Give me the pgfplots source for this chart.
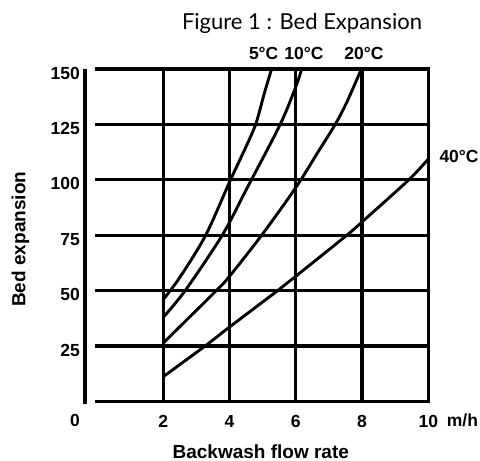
\documentclass[border=0pt]{standalone}
\usepackage{fontspec}
\setmainfont{Liberation Sans}
\newfontfamily\titlefont{Lato}
\usepackage{pgfplots}
\pgfplotsset{compat=1.18}
\begin{document}
\begin{tikzpicture}[x=1pt,y=1pt]
\useasboundingbox (0,0) rectangle (480,461);
\begin{axis}[
  at={(97pt,59.5pt)}, anchor=south west,
  scale only axis, width=331.3pt, height=332.5pt,
  xmin=0, xmax=10, ymin=0, ymax=150,
  axis line style={draw=none},
  xtick={2,4,6,8,10}, ytick={0,25,50,75,100,125,150},
  yticklabels={,25,50,75,100,125,150},
  major tick length=0pt,
  grid=major,
  major grid style={black, line width=3.3pt, line cap=rect},
  clip=false,
  /pgf/number format/assume math mode=true,
  tick label style={font=\fontsize{17.5}{20}\selectfont\bfseries, inner sep=0pt},
  yticklabel style={anchor=east, xshift=-17pt, yshift=-4pt},
  xticklabel style={anchor=north, yshift=-13.5pt},
]
\addplot[black, line width=2.9pt, smooth] coordinates {(2,46) (2.5,56) (3.28,75) (4.03,100) (4.5,115) (4.8,125.5) (5.05,139) (5.27,150)};
\addplot[black, line width=2.9pt, smooth] coordinates {(2,38) (2.66,50) (3.78,75) (4.52,96) (5.53,125) (6,142) (6.18,150)};
\addplot[black, line width=2.9pt, smooth] coordinates {(2,26.4) (3.6,50) (4,56.5) (4.97,75) (6,96.5) (6.69,113) (7.19,125) (7.54,135) (7.98,150)};
\addplot[black, line width=2.9pt, smooth] coordinates {(2,11.2) (3.26,25) (4,33.6) (5.45,50) (6,56.5) (7.54,75) (8,81) (9.41,100) (10,109.4)};
\end{axis}
\draw[line width=3.3pt] (85,392) -- (85,57);
\begin{scope}[every node/.style={inner sep=0pt, font=\fontsize{17.5}{20}\selectfont\bfseries}]
\node[anchor=base east] at (80,34.3) {0};
\node[anchor=base west] at (446.7,34.3) {m/h};
\node[anchor=base] at (263.7,401.7) {5°C};
\node[anchor=base] at (304,401.7) {10°C};
\node[anchor=base] at (364,401.7) {20°C};
\node[anchor=base west] at (439.3,298) {40°C};
\end{scope}
\node[inner sep=0pt, anchor=base, font=\fontsize{19}{22}\selectfont\bfseries] at (260.8,2.7) {Backwash flow rate};
\node[inner sep=0pt, anchor=base, rotate=90, font=\fontsize{19}{22}\selectfont\bfseries] at (25.3,221.8) {Bed expansion};
\node[inner sep=0pt, anchor=base, font=\fontsize{22}{26}\selectfont\titlefont] at (302,431.7) {Figure 1 : Bed Expansion};
\end{tikzpicture}
\end{document}
